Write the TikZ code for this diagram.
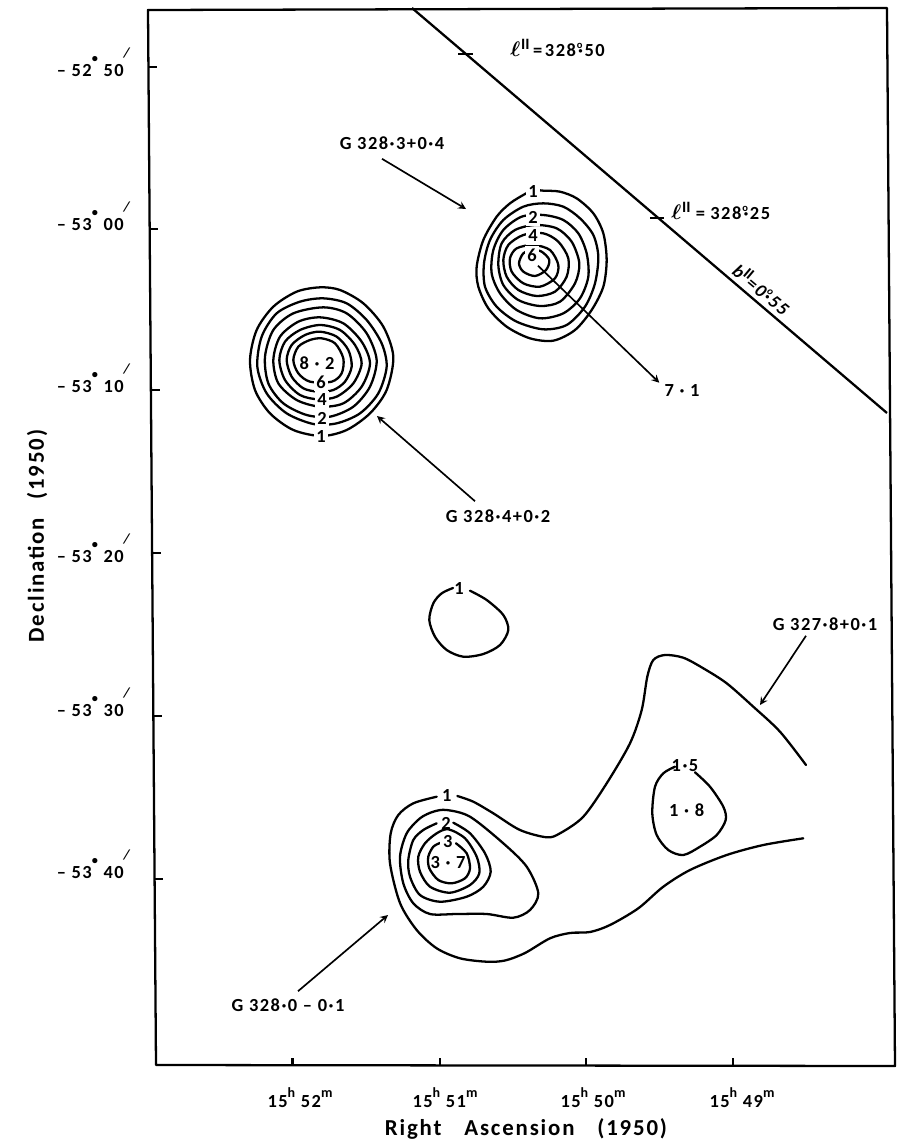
\documentclass[tikz,border=0pt]{standalone}
\usepackage{amsmath}
\usepackage{fontspec}
\setmainfont[LetterSpace=8]{Carlito}
\newcommand{\degdot}{\raisebox{7.5pt}{\scriptsize\textbullet}}
\newcommand{\minmark}{\raisebox{10.5pt}{\fontsize{8}{8}\selectfont\textit{/}}}
\newcommand{\degring}{\kern0.5pt\raisebox{4.5pt}{\fontsize{6}{6}\selectfont o}\kern-2.5pt}
\newcommand{\rahigh}[1]{\raisebox{5.5pt}{\footnotesize #1}}
\newcommand{\ellii}{{\large$\boldsymbol{\ell}$}\kern0.5pt\raisebox{3.5pt}{\small$\mathbf{II}$}}
\tikzset{
 framing/.style={line width=1.3pt,line join=round},
 contour/.style={line width=1.3pt,line cap=round},
 pointer/.style={line width=0.95pt,->,>=stealth},
 lab/.style={font=\bfseries\fontsize{10.5}{12}\selectfont,inner sep=0pt},
 ringlab/.style={lab,fill=white,inner sep=1.6pt},
 axislab/.style={font=\bfseries\fontsize{13}{15}\selectfont,inner sep=0pt}
}
\begin{document}
\begin{tikzpicture}[x=0.02cm,y=-0.02cm]
 \useasboundingbox (0, 0) rectangle (900, 1144) ;

 \draw[framing] (148, 10) -- (887, 8) -- (895, 1066) -- (156, 1065) -- cycle ;

 \draw[framing] (149, 67) -- (157, 67) ;
 \draw[framing] (150, 229) -- (158, 229) ;
 \draw[framing] (152, 390) -- (160, 390) ;
 \draw[framing] (153, 553) -- (161, 553) ;
 \draw[framing] (154, 716) -- (162, 716) ;
 \draw[framing] (155, 879) -- (163, 879) ;
 \draw[framing] (292.5, 1058) -- (292.5, 1065) ;
 \draw[framing] (440, 1058) -- (440, 1065) ;
 \draw[framing] (586, 1058) -- (586, 1065) ;
 \draw[framing] (733, 1058) -- (733, 1065) ;

 \node[lab,anchor=base east] (dec1) at (132, 76) {-- 52\degdot\ 50\minmark} ;
 \node[lab,anchor=base east] (dec2) at (132, 230) {-- 53\degdot\ 00\minmark} ;
 \node[lab,anchor=base east] (dec3) at (132, 392) {-- 53\degdot\ 10\minmark} ;
 \node[lab,anchor=base east] (dec4) at (132, 562) {-- 53\degdot\ 20\minmark} ;
 \node[lab,anchor=base east] (dec5) at (132, 716) {-- 53\degdot\ 30\minmark} ;
 \node[lab,anchor=base east] (dec6) at (132, 878) {-- 53\degdot\ 40\minmark} ;

 \node[lab,anchor=base] (ra1) at (300, 1107) {15\rahigh{h} 52\rahigh{m}} ;
 \node[lab,anchor=base] (ra2) at (445, 1107) {15\rahigh{h} 51\rahigh{m}} ;
 \node[lab,anchor=base] (ra3) at (593, 1107) {15\rahigh{h} 50\rahigh{m}} ;
 \node[lab,anchor=base] (ra4) at (742, 1107) {15\rahigh{h} 49\rahigh{m}} ;

 \node[axislab,anchor=base] (ratitle) at (526, 1135) {Right\quad Ascension\quad (1950)} ;
 \node[axislab,anchor=base,rotate=90] (dectitle) at (44, 536) {Declination\enspace\ (1950)} ;

 \draw[framing] (412, 8) -- (887, 413) ;
 \draw[framing] (458, 54) -- (473, 54) ;
 \draw[framing] (650, 218) -- (664, 218) ;
 \node[lab,anchor=base west] (lii50) at (510, 56) {\ellii\kern2pt=\kern1.5pt 328\degring·50} ;
 \node[lab,anchor=base west] (lii25) at (671, 219) {\ellii\kern3pt=\kern3pt 328\degring·25} ;
 \node[lab,rotate=-40] (bii) at (762, 289) {\itshape b\raisebox{3.5pt}{\small$\mathbf{II}$}=\kern1pt 0\degring·55} ;

 \begin{scope}[shift={(460, 170)},x=0.00667cm,y=-0.00667cm]
 \draw[contour] plot [smooth cycle] coordinates {(220, 60) (250, 62) (300, 65) (350, 85) (400, 130) (430, 190) (440, 270) (430, 350) (395, 420) (345, 480) (280, 512) (210, 505) (140, 470) (85, 415) (55, 350) (50, 290) (70, 210) (110, 140) (150, 100) (195, 72)} ;
 \draw[contour] plot [smooth cycle] coordinates {(250, 100) (310, 110) (360, 145) (400, 195) (415, 260) (405, 340) (375, 410) (320, 465) (250, 478) (170, 455) (110, 410) (75, 350) (72, 280) (90, 210) (130, 150) (190, 110)} ;
 \draw[contour] plot [smooth cycle] coordinates {(250, 135) (310, 150) (355, 190) (380, 250) (385, 320) (360, 385) (310, 430) (240, 445) (170, 420) (120, 370) (95, 310) (100, 240) (130, 180) (185, 140)} ;
 \draw[contour] plot [smooth cycle] coordinates {(225, 165) (290, 175) (335, 215) (358, 280) (345, 340) (300, 395) (240, 408) (175, 390) (130, 345) (115, 285) (125, 220) (165, 180)} ;
 \draw[contour] plot [smooth cycle] coordinates {(250, 190) (295, 215) (325, 265) (320, 320) (285, 365) (230, 378) (175, 360) (140, 320) (130, 270) (145, 225) (190, 195)} ;
 \draw[contour] plot [smooth cycle] coordinates {(220, 225) (270, 240) (295, 285) (285, 325) (240, 350) (190, 340) (155, 305) (150, 265) (170, 235)} ;
 \draw[contour] plot [smooth cycle] coordinates {(245, 245) (268, 270) (258, 300) (225, 318) (190, 305) (177, 280) (190, 250) (218, 240)} ;
 \end{scope}

 \node[ringlab] (a1) at (533, 192) {1} ;
 \node[ringlab] (a2) at (533, 217) {2} ;
 \node[ringlab] (a4) at (533, 236) {4} ;
 \node[ringlab] (a6) at (532, 255) {6} ;

 \begin{scope}[shift={(230, 270)},x=0.00667cm,y=-0.00667cm]
 \draw[contour] plot [smooth cycle] coordinates {(270, 52) (330, 60) (400, 100) (460, 170) (490, 260) (470, 360) (420, 430) (350, 480) (275, 498) (190, 480) (120, 430) (75, 360) (60, 270) (80, 180) (130, 110) (200, 65)} ;
 \draw[contour] plot [smooth cycle] coordinates {(280, 85) (350, 100) (410, 150) (455, 220) (470, 290) (445, 370) (390, 430) (320, 460) (250, 462) (170, 430) (110, 370) (82, 290) (95, 200) (140, 130) (210, 95)} ;
 \draw[contour] plot [smooth cycle] coordinates {(280, 112) (350, 130) (410, 190) (440, 270) (420, 350) (370, 410) (300, 440) (230, 435) (160, 400) (115, 340) (105, 260) (130, 180) (190, 130)} ;
 \draw[contour] plot [smooth cycle] coordinates {(270, 142) (340, 160) (395, 215) (420, 280) (395, 350) (340, 400) (270, 410) (200, 390) (145, 340) (130, 270) (150, 200) (205, 155)} ;
 \draw[contour] plot [smooth cycle] coordinates {(270, 165) (330, 180) (375, 225) (395, 280) (370, 340) (320, 380) (265, 388) (210, 375) (165, 330) (148, 270) (165, 215) (210, 180)} ;
 \draw[contour] plot [smooth cycle] coordinates {(270, 185) (320, 200) (355, 240) (365, 290) (345, 335) (310, 360) (265, 365) (220, 355) (185, 320) (170, 270) (185, 225) (225, 195)} ;
 \draw[contour] plot [smooth cycle] coordinates {(275, 205) (315, 220) (340, 265) (335, 310) (305, 335) (240, 335) (205, 310) (190, 270) (205, 230) (240, 210)} ;
 \end{scope}

 \node[ringlab] (b1) at (321, 437) {1} ;
 \node[ringlab] (b2) at (322, 418) {2} ;
 \node[ringlab] (b4) at (322, 400) {4} ;
 \node[ringlab] (b6) at (321, 382) {6} ;
 \node[lab] (b82) at (317, 363) {8 · 2} ;

 \draw[contour] plot [smooth] coordinates {(470, 590.7) (486.7, 600) (503.3, 615) (508.3, 630) (500, 645) (483.3, 654) (463.3, 656.7) (446.7, 650) (435, 636.7) (429.3, 620) (433.3, 603.3) (441.7, 593.3) (453, 588)} ;
 \node[lab] (c1) at (459, 588) {1} ;

 \draw[contour] plot [smooth] coordinates {(806, 765) (780, 731.7) (753.3, 706.7) (726.7, 683.3) (703.3, 668.3) (683.3, 657.7) (665, 655) (653.3, 660) (647.3, 676.7) (641.7, 710) (630, 743.3) (606.7, 783.3) (583.3, 816.7) (560, 833.3) (546.7, 837.3) (520, 830) (493.3, 813.3) (473.3, 801.7) (457.3, 796)} ;
 \draw[contour] plot [smooth] coordinates {(436.7, 796.7) (413.3, 803.3) (398.3, 815) (390.7, 833.3) (390, 863.3) (400, 903) (416.7, 930) (436.7, 948.3) (460, 958.3) (486.7, 961.7) (505, 960.5) (525, 953) (550, 938.3) (570, 933) (590, 932) (610, 925) (638.3, 908.3) (663.3, 886.7) (690, 870) (726.7, 855) (763.3, 845) (803.3, 838.3)} ;
 \node[lab] (d1) at (446.7, 795) {1} ;

 \draw[contour] plot [smooth cycle] coordinates {(446.7, 810) (470, 816.7) (503.3, 843.3) (526.7, 866.7) (538.3, 893.3) (530, 910) (513.3, 917.7) (486.7, 914) (456.7, 914) (430, 914) (413.3, 903.3) (403.3, 883.3) (400, 856.7) (406.7, 833.3) (420, 818.3) (433.3, 811.7)} ;
 \draw[contour] plot [smooth] coordinates {(453.3, 822.7) (470, 833.3) (485, 853.3) (490.7, 871.7) (483.3, 886.7) (466.7, 896.7) (440, 901.7) (420, 895) (410, 876.7) (408.3, 860) (413.3, 840) (423.3, 830) (436.7, 823.3)} ;
 \draw[contour] plot [smooth cycle] coordinates {(448.3, 829.3) (465, 838.3) (476.7, 856.7) (479.3, 873.3) (470, 885) (450, 892.7) (430, 886.7) (420, 871.7) (418.3, 856.7) (425, 843.3) (436.7, 833.3)} ;
 \draw[contour] plot [smooth] coordinates {(456, 843.3) (466.7, 853.3) (470, 868.3) (465, 878.3) (451.7, 883.3) (438.3, 880) (429.3, 868.3) (428.3, 856.7) (433.3, 846.7) (440.7, 842.7)} ;
 \node[lab] (d2) at (446, 823) {2} ;
 \node[ringlab] (d3) at (447.7, 842) {3} ;
 \node[lab] (d37) at (448, 863) {3 · 7} ;

 \draw[contour] plot [smooth] coordinates {(695, 772.3) (710, 786.7) (723.3, 806.7) (725.7, 820) (716.7, 835) (700, 846.7) (683.3, 855) (668.3, 850) (656.7, 835) (652.3, 813.3) (655, 786.7) (663.3, 773.3) (675, 766.7)} ;
 \node[lab] (e15) at (685, 765.7) {1·5} ;
 \node[lab] (e18) at (686.7, 810) {1 · 8} ;

 \node[lab] (g3283) at (392, 143) {G 328·3+0·4} ;
 \node[lab] (g3284) at (498, 516) {G 328·4+0·2} ;
 \node[lab] (g3278) at (825, 624) {G 327·8+0·1} ;
 \node[lab] (g3280) at (288, 1005) {G 328·0 -- 0·1} ;
 \node[lab] (peak71) at (682, 390) {7 · 1} ;

 \coordinate (tip3283) at (466, 209) ;
 \coordinate (tip3284) at (377, 416) ;
 \coordinate (tip3278) at (760, 705) ;
 \coordinate (tip3280) at (388, 915) ;
 \coordinate (peak6) at (538, 265.7) ;
 \coordinate (tip71) at (659.3, 382.7) ;

 \draw[pointer] ([xshift=-0.2cm,yshift=-0.18cm]g3283.south) -- (tip3283) ;
 \draw[pointer] ([xshift=-0.46cm,yshift=0.16cm]g3284.north) -- (tip3284) ;
 \draw[pointer] ([xshift=-0.38cm,yshift=-0.1cm]g3278.south) -- (tip3278) ;
 \draw[pointer] ([xshift=0.2cm,yshift=0.14cm]g3280.north) -- (tip3280) ;
 \draw[pointer] (peak6) -- (tip71) ;

\end{tikzpicture}
\end{document}
